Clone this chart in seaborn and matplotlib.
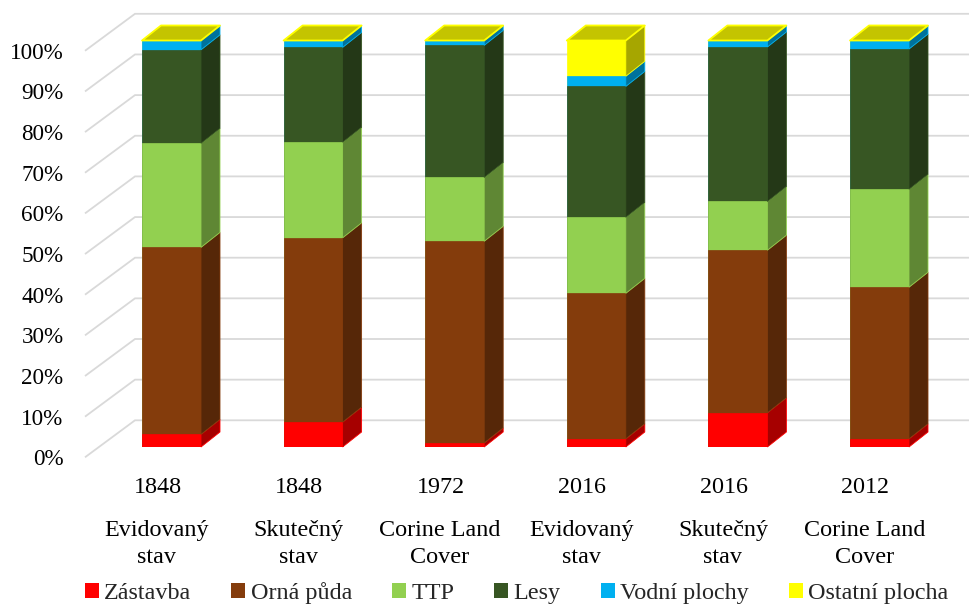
import matplotlib
matplotlib.use("Agg")
import matplotlib.pyplot as plt
import numpy as np
import pandas as pd
import seaborn as sns
from matplotlib.patches import Patch
from matplotlib.transforms import ScaledTranslation
from matplotlib.colors import to_rgb

years = ["1848", "1848", "1972", "2016", "2016", "2012"]
sources = ["Evidovaný\nstav", "Skutečný\nstav", "Corine Land\nCover",
           "Evidovaný\nstav", "Skutečný\nstav", "Corine Land\nCover"]
series = ["Zástavba", "Orná půda", "TTP", "Lesy", "Vodní plochy", "Ostatní plocha"]
colors = ["#FF0000", "#843C0C", "#92D050", "#375623", "#00B0F0", "#FFFF00"]

zastavba = [3.1, 6.1, 1.0, 2.0, 8.4, 2.0]
orna = [46.0, 45.3, 49.6, 35.8, 40.0, 37.3]
ttp = [25.6, 23.5, 15.7, 18.7, 12.0, 24.1]
lesy = [23.0, 23.3, 32.5, 32.2, 38.0, 34.5]
vodni = [2.3, 1.7, 1.2, 2.5, 1.6, 2.1]
ostatni = [0.0, 0.0, 0.0, 8.8, 0.0, 0.0]

sns.set_theme(style="white")
plt.rcParams["font.family"] = ["Liberation Serif", "DejaVu Serif"]
FS = 17.4
FS_Y = 16.7

W, H = 970, 606
fig = plt.figure(figsize=(W / 100, H / 100), dpi=100)

# plot frame in pixels: left 85, right 970, 0 % at y=447, 100 % at y=40.5
PX_PCT = 4.065
PX_CAT = 141.6
ax_top = 8
ax = fig.add_axes([85 / W, (H - 447) / H, (W - 85) / W, (447 - ax_top) / H])
ax.patch.set_alpha(0)

values = np.array([zastavba, orna, ttp, lesy, vodni, ostatni])
cum = values.cumsum(axis=0)
cum = cum / cum[-1] * 100
base = np.vstack([np.zeros(cum.shape[1]), cum[:-1]])

long = pd.DataFrame({
    "pos": np.tile(np.arange(len(years)), len(series)),
    "series": np.repeat(series, len(years)),
    "top": cum.ravel(),
})
BAR_W = 59 / PX_CAT
sns.barplot(data=long, x="pos", y="top", hue="series",
            hue_order=series[::-1], palette=dict(zip(series, colors)),
            dodge=False, width=BAR_W, saturation=1, legend=False,
            linewidth=0.5, ax=ax, zorder=3)
for p in ax.patches:
    p.set_edgecolor(p.get_facecolor())

ax.set_xlim(-(171.5 - 85) / PX_CAT, (W - 171.5) / PX_CAT)
ax.set_ylim(0, (447 - ax_top) / PX_PCT)

# depth of bars and of the floor, in data units
DX, DY = 19 / PX_CAT, 15 / PX_PCT
WALL_DX, WALL_DY = 50 / PX_CAT, 37 / PX_PCT
x_left = ax.get_xlim()[0]
x_right = ax.get_xlim()[1]
LABEL_DY = -10.3 / PX_PCT

ticks = np.arange(0, 101, 10)
for t in ticks:
    y0 = t + LABEL_DY
    ax.plot([x_left, x_left + WALL_DX, x_right],
            [y0, y0 + WALL_DY, y0 + WALL_DY],
            color="#D9D9D9", lw=1.3, clip_on=False, zorder=1,
            solid_capstyle="butt", solid_joinstyle="miter")

def shade(c, f):
    return tuple(v * f for v in to_rgb(c))

for i in range(len(years)):
    xr = i + BAR_W / 2
    xl = i - BAR_W / 2
    for s in range(len(series)):
        b, tp = base[s, i], cum[s, i]
        if tp - b <= 0:
            continue
        ax.fill([xr, xr + DX, xr + DX, xr], [b, b + DY, tp + DY, tp],
                facecolor=shade(colors[s], 0.65), edgecolor=colors[s],
                lw=0.6, zorder=3, clip_on=False)
    ax.fill([xl, xr, xr + DX, xl + DX], [100, 100, 100 + DY, 100 + DY],
            facecolor=shade(colors[-1], 0.77), edgecolor=colors[-1],
            lw=1.3, zorder=4, clip_on=False, joinstyle="round")

# axis text
ax.set_yticks(ticks, [f"{t}%" for t in ticks])
ax.set_xticks(range(len(years)), years)
ax.set_xticks(range(len(years)), sources, minor=True)
ax.xaxis.remove_overlapping_locs = False
ax.tick_params(axis="y", length=0, pad=15.5, labelsize=FS_Y, labelcolor="black")
ax.tick_params(axis="x", which="major", length=0, pad=21.5, labelsize=FS, labelcolor="black")
ax.tick_params(axis="x", which="minor", length=0, pad=52.5, labelsize=FS, labelcolor="black")
ax.set_xlabel("")
ax.set_ylabel("")
for sp in ax.spines.values():
    sp.set_visible(False)

shift_y = ScaledTranslation(0, -10.3 / 100, fig.dpi_scale_trans)
for lab in ax.get_yticklabels():
    lab.set_transform(lab.get_transform() + shift_y)
shift_x = ScaledTranslation(-14 / 100, 0, fig.dpi_scale_trans)
shift_x_minor = ScaledTranslation(-15 / 100, 0, fig.dpi_scale_trans)
for lab in ax.get_xticklabels():
    lab.set_transform(lab.get_transform() + shift_x)
for lab in ax.get_xticklabels(minor=True):
    lab.set_transform(lab.get_transform() + shift_x_minor)
    lab.set_linespacing(1.38)

handles = [Patch(facecolor=c, edgecolor=c, lw=0) for c in colors]
fig.legend(handles, series, ncol=6, frameon=False, fontsize=FS,
           loc="center left", bbox_to_anchor=(85 / W, (H - 593) / H),
           handlelength=0.58, handleheight=0.58, handletextpad=0.22,
           columnspacing=1.65, borderpad=0, borderaxespad=0)

fig.savefig("out.png", dpi=100, facecolor="white")
